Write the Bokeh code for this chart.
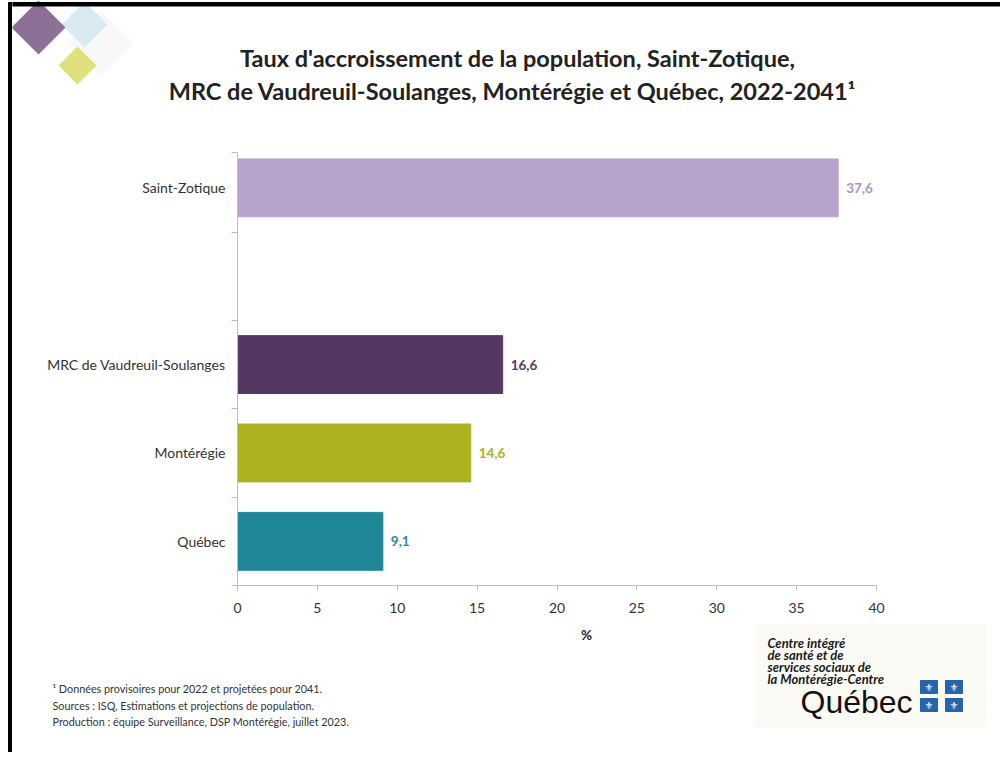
from bokeh.plotting import figure
from bokeh.models import FixedTicker, Range1d
from bokeh.layouts import column, row
from bokeh.core.properties import value
from bokeh.embed import file_html
from bokeh.resources import INLINE

# ---------------- data ----------------
categories = ["Saint-Zotique", "", "MRC de Vaudreuil-Soulanges", "Montérégie", "Québec"]
values = [37.6, None, 16.6, 14.6, 9.1]
bar_colors = ["#B8A3CC", None, "#553764", "#ABB321", "#1F8798"]
label_colors = ["#A993C4", None, "#553764", "#A9B020", "#2A8C9E"]
x_ticks = [0, 5, 10, 15, 20, 25, 30, 35, 40]
title_lines = ["Taux d'accroissement de la population, Saint-Zotique,",
               "MRC de Vaudreuil-Soulanges, Montérégie et Québec, 2022-2041¹"]
x_label = "%"
notes = ["¹ Données provisoires pour 2022 et projetées pour 2041.",
         "Sources :  ISQ, Estimations et projections de population.",
         "Production : équipe Surveillance, DSP Montérégie, juillet 2023."]
logo_lines = ["Centre intégré", "de santé et de", "services sociaux de", "la Montérégie-Centre"]

FONT = "Lato"
W = 1000
H = 752
TOP_H = 135
MAIN_BOTTOM = 618
BOT_H = H - MAIN_BOTTOM
MAIN_H = MAIN_BOTTOM - TOP_H
SX = 12  # width of the left strip holding the frame border


def canvas(w, h, x0, y0):
    """A frame-only figure whose data units are page pixels."""
    f = figure(width=w, height=h, output_backend="svg", toolbar_location=None,
               x_range=Range1d(x0, x0 + w), y_range=Range1d(y0 + h, y0),
               x_axis_location=None, y_axis_location=None,
               min_border=0, background_fill_color="white",
               border_fill_color="white", frame_align=False)
    f.outline_line_color = None
    f.grid.visible = False
    return f


def txt(f, x, y, t, size, color="#222222", style="normal", align="left", font=FONT):
    f.text(x=[x], y=[y], text=[t], text_font=value(font), text_font_size=size,
           text_color=color, text_font_style=style, text_align=align,
           text_baseline="middle")


def diamond(f, cx, cy, h, color, alpha=1.0):
    f.patch([cx - h, cx, cx + h, cx], [cy, cy - h, cy, cy + h],
            fill_color=color, fill_alpha=alpha, line_color=None)


# ---------------- left strip: border ----------------
strip = canvas(SX, H, 0, 0)
diamond(strip, 38, 27, 27, "#86688F", 0.95)
strip.quad(left=[8], right=[11.5], top=[2], bottom=[H], color="black")
strip.quad(left=[8], right=[SX], top=[2], bottom=[5.5], color="black")

# ---------------- top: logo diamonds + title ----------------
top = canvas(W - SX, TOP_H, SX, 0)
diamond(top, 100, 43, 33, "#F8F8FA")
diamond(top, 84, 24, 23, "#D7E9F1", 0.95)
diamond(top, 38, 27, 27, "#86688F", 0.95)
diamond(top, 77, 65, 19, "#DDE07C")
top.quad(left=[SX], right=[W], top=[2], bottom=[5.5], color="black")
txt(top, 517, 57, title_lines[0], "23.5px", "#222222", "bold", "center")
txt(top, 512, 90, title_lines[1], "23.5px", "#222222", "bold", "center")

# ---------------- main chart ----------------
n = len(categories)
ypos = [n - 1 - i for i in range(n)]

p = figure(width=W - SX, height=MAIN_H, output_backend="svg",
           toolbar_location=None,
           x_range=Range1d(0, 40), y_range=Range1d(-0.5, n - 1 + 0.4),
           min_border_left=237 - SX, min_border_right=W - 876,
           min_border_top=152 - TOP_H, min_border_bottom=MAIN_BOTTOM - 585,
           background_fill_color="white", border_fill_color="white",
           frame_align=False)
p.outline_line_color = None
p.grid.visible = False

bx = [v for v in values if v is not None]
by = [y for y, v in zip(ypos, values) if v is not None]
bc = [c for c, v in zip(bar_colors, values) if v is not None]
lc = [c for c, v in zip(label_colors, values) if v is not None]
bt = [f"{v:.1f}".replace(".", ",") for v in bx]

p.hbar(y=by, left=0, right=bx, height=0.655, fill_color=bc, line_color=bc)
p.text(x=bx, y=by, text=bt, text_color=lc, x_offset=8, text_align="left",
       text_baseline="middle", text_font_size="13.5px", text_font_style="bold",
       text_font=value(FONT))

xa = p.xaxis[0]
xa.ticker = FixedTicker(ticks=x_ticks)
xa.axis_line_color = "#BFBFBF"
xa.major_tick_line_color = "#BFBFBF"
xa.major_tick_out = 5
xa.major_tick_in = 0
xa.minor_tick_line_color = None
xa.major_label_text_font = FONT
xa.major_label_text_font_size = "14px"
xa.major_label_text_color = "#333333"
xa.major_label_standoff = 12

ya = p.yaxis[0]
ya.ticker = FixedTicker(ticks=ypos,
                        minor_ticks=[y - 0.5 for y in ypos] + [n - 1 + 0.4])
ya.major_label_overrides = {y: c for y, c in zip(ypos, categories)}
ya.axis_line_color = "#BFBFBF"
ya.major_tick_line_color = None
ya.major_tick_out = 0
ya.major_tick_in = 0
ya.minor_tick_line_color = "#BFBFBF"
ya.minor_tick_out = 6
ya.minor_tick_in = 0
ya.major_label_text_font = FONT
ya.major_label_text_font_size = "14px"
ya.major_label_text_color = "#333333"
ya.major_label_standoff = 6

# ---------------- bottom: axis title, notes + logo ----------------
y0 = MAIN_BOTTOM
bot = canvas(W - SX, BOT_H, SX, y0)
txt(bot, 586, 634, x_label, "13.5px", "#222222", "bold", "center")
for i, t in enumerate(notes):
    txt(bot, 52, 688 + i * 16.5, t, "10.8px", "#333333")
bot.quad(left=[754], right=[986], top=[624], bottom=[726], color="#FBFAF5")
for i, t in enumerate(logo_lines):
    txt(bot, 767, 642 + i * 12, t, "13px", "#1A1A1A", "bold italic")
txt(bot, 800, 701, "Québec", "32px", "#111111", "normal", "left", "Liberation Sans")
for (l, t) in [(920, 680), (945, 680), (920, 698), (945, 698)]:
    bot.quad(left=[l], right=[l + 17], top=[t], bottom=[t + 13], color="#2565B0")
    txt(bot, l + 8.5, t + 6.5, "⚜", "10px", "white", "normal", "center", "DejaVu Sans")

layout = row(strip, column(top, p, bot, spacing=0), spacing=0)
open("out.html", "w").write(file_html(layout, INLINE))
